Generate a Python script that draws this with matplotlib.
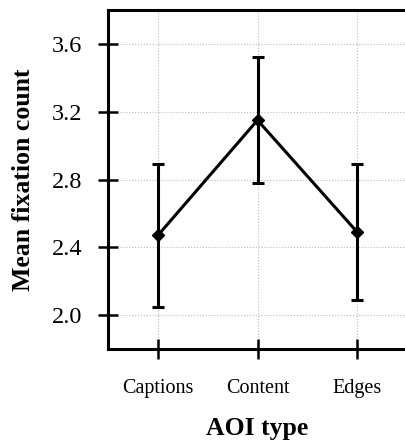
import matplotlib
matplotlib.use("Agg")
import matplotlib.pyplot as plt

categories = ["Captions", "Content", "Edges"]
means = [2.47, 3.15, 2.49]
errors = [0.42, 0.37, 0.40]
yticks = [2.0, 2.4, 2.8, 3.2, 3.6]

plt.rcParams['font.family'] = ['Liberation Serif', 'DejaVu Serif']

W, H = 405, 444
fig = plt.figure(figsize=(W / 100, H / 100), dpi=100)
ax = fig.add_axes([108 / W, (H - 349) / H, (407 - 108) / W, (349 - 10) / H])

x = list(range(len(categories)))
ax.errorbar(x, means, yerr=errors, color='black', lw=2.2, marker='D', ms=6.5,
            capsize=4.5, capthick=2.2, elinewidth=2.2, zorder=3)

ax.set_xlim(-0.5, 2.5)
ax.set_ylim(1.8, 3.8)
ax.set_yticks(yticks)
ax.set_yticklabels([f"{v:.1f}" for v in yticks])
ax.set_xticks(x)
ax.set_xticklabels(categories)

ax.grid(True, color='#bbbbbb', linestyle=':', linewidth=0.8)
ax.set_axisbelow(True)
for s in ['left', 'bottom', 'top']:
    ax.spines[s].set_linewidth(2.2)
ax.spines['right'].set_visible(False)

ax.tick_params(axis='y', direction='inout', length=15, width=1.8, labelsize=17.5, pad=11)
ax.tick_params(axis='x', direction='inout', length=15, width=1.8, labelsize=14.5, pad=14)

ax.set_ylabel("Mean fixation count", fontsize=18.5, fontweight='bold', labelpad=12)
ax.set_xlabel("AOI type", fontsize=18.5, fontweight='bold', labelpad=14)

fig.savefig("out.png", dpi=100)
